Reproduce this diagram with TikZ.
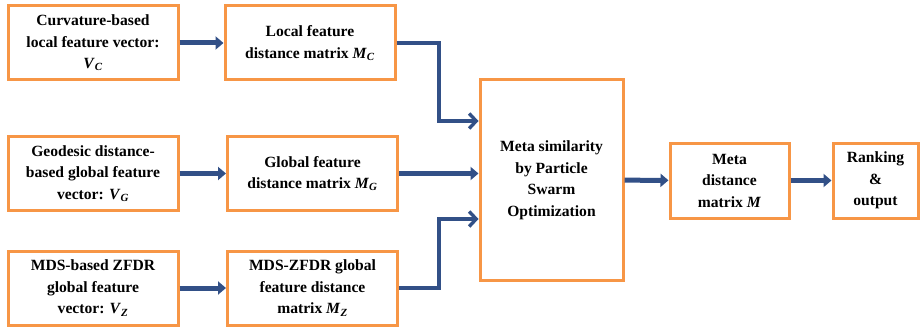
\documentclass[tikz,border=0pt]{standalone}
\usepackage{fontspec}
\setmainfont{Liberation Serif}
\usetikzlibrary{positioning, arrows.meta}

\definecolor{naranja}{RGB}{247,150,70}
\definecolor{azul}{RGB}{50,80,135}
\newcommand{\mvar}[2]{\textit{#1}\textsubscript{\textit{#2}}}

\begin{document}
\begin{tikzpicture}[
    x=1pt, y=-1pt,
    caja/.style={
        rectangle,
        draw=naranja,
        line width=3pt,
        align=center,
        fill=white,
        font=\fontsize{15.6}{21.5}\selectfont\bfseries,
        inner sep=2pt,
        minimum width=170pt,
        minimum height=74pt,
    },
    flecha/.style={-{Triangle[length=8pt,width=13pt]}, line width=5pt, draw=azul},
    codo/.style={-{Straight Barb[length=7pt,width=15pt]}, line width=3.4pt, draw=azul}
]
\useasboundingbox (0,0) rectangle (924,329);

% Nodos
\node[caja] (vc) at (93,43) {Curvature-based\\local feature vector:\\\mvar{V}{C}};
\node[caja] (vg) at (93,173.5) {Geodesic distance-\\based global feature\\vector: \mvar{V}{G}};
\node[caja] (vz) at (93,288) {MDS-based ZFDR\\global feature\\vector: \mvar{V}{Z}};
\node[caja] (mc) at (310,43) {Local feature\\distance matrix \mvar{M}{C}};
\node[caja] (mg) at (312.5,173.5) {Global feature\\distance matrix \mvar{M}{G}};
\node[caja] (mz) at (312.5,288) {MDS-ZFDR global\\feature distance\\matrix \mvar{M}{Z}};
\node[caja, minimum width=143pt, minimum height=200pt] (meta) at (551.5,180) {Meta similarity\\by Particle\\Swarm\\Optimization};
\node[caja, minimum width=119pt, minimum height=75pt] (mm) at (729.5,180.5) {Meta\\distance\\matrix \textit{M}};
\node[caja, minimum width=85pt, minimum height=75pt] (rank) at (875.5,180.5) {Ranking\\\&\\output};

% Puntos de codo
\coordinate (ca) at (439,121);
\coordinate (cb) at (439,219);

% Conexiones
\draw[flecha] (vc) -- (mc);
\draw[flecha] (vg) -- (mg);
\draw[flecha] (vz) -- (mz);
\draw[flecha] (mg.east) -- (mg.east -| meta.west);
\draw[flecha] (meta) -- (mm);
\draw[flecha] (mm) -- (rank);

% Conexiones con codo
\draw[codo] (mc.east) -| (ca) -- (ca -| meta.west);
\draw[codo] (mz.east) -| (cb) -- (cb -| meta.west);

\end{tikzpicture}
\end{document}
